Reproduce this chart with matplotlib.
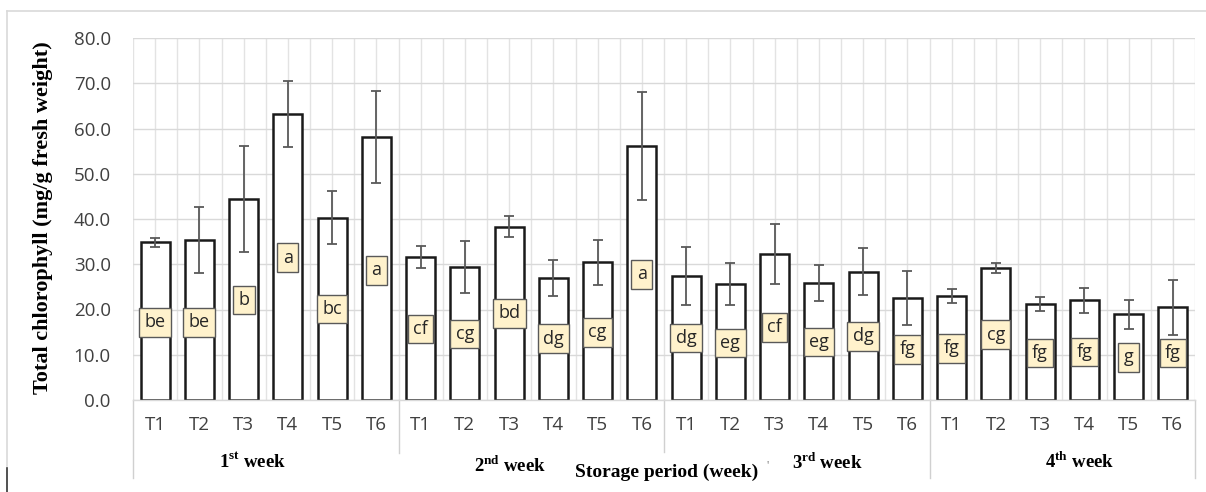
import numpy as np
import matplotlib
matplotlib.use("Agg")
import matplotlib.pyplot as plt
from matplotlib.lines import Line2D
import matplotlib.transforms as mtransforms

plt.rcParams['mathtext.fontset'] = 'custom'
plt.rcParams['mathtext.rm'] = 'Liberation Serif:bold'
plt.rcParams['mathtext.bf'] = 'Liberation Serif:bold'

# treatment means and standard deviations, per storage week
treatments = ['T1', 'T2', 'T3', 'T4', 'T5', 'T6']
weeks = [r'1$^{\mathrm{st}}$ week', r'2$^{\mathrm{nd}}$ week',
         r'3$^{\mathrm{rd}}$ week', r'4$^{\mathrm{th}}$ week']

means = [34.9, 35.3, 44.4, 63.2, 40.3, 58.1,
         31.6, 29.4, 38.3, 26.9, 30.4, 56.1,
         27.4, 25.6, 32.3, 25.9, 28.3, 22.5,
         23.0, 29.1, 21.2, 22.0, 18.9, 20.5]
sds = [1.0, 7.3, 11.8, 7.3, 5.9, 10.2,
       2.4, 5.7, 2.3, 4.0, 5.0, 12.0,
       6.4, 4.6, 6.6, 4.0, 5.2, 5.9,
       1.6, 1.1, 1.6, 2.8, 3.3, 6.1]
letters = ['be', 'be', 'b', 'a', 'bc', 'a',
           'cf', 'cg', 'bd', 'dg', 'cg', 'a',
           'dg', 'eg', 'cf', 'eg', 'dg', 'fg',
           'fg', 'cg', 'fg', 'fg', 'g', 'fg']
# height at which each letter tag sits
letter_y = [17.2, 17.2, 22.1, 31.4, 20.1, 28.7,
            15.7, 14.6, 19.2, 13.5, 15.0, 27.8,
            13.7, 12.6, 16.1, 12.8, 14.1, 11.2,
            11.4, 14.4, 10.4, 10.6, 9.4, 10.4]

W, H = 1206, 492
fig = plt.figure(figsize=(W / 100, H / 100), dpi=100)
ax = fig.add_axes([133 / W, 1 - 400 / H, (1195 - 133) / W, 362 / H])

x = np.arange(len(means))
ax.bar(x, means, width=0.66, color='white', edgecolor='#1a1a1a',
       linewidth=1.8, zorder=2)
ax.errorbar(x, means, yerr=sds, fmt='none', ecolor='#595959',
            elinewidth=1.3, capsize=3.5, capthick=1.3, zorder=3)

for xi, lab, ly in zip(x, letters, letter_y):
    ax.text(xi, ly, lab, ha='center', va='center', fontsize=13,
            family='Open Sans', color='#262626', zorder=4,
            bbox=dict(boxstyle='square,pad=0.3', fc='#fff2cc',
                      ec='#595959', lw=1))

ax.set_xlim(-0.5, 23.5)
ax.set_ylim(0, 80)
ax.set_yticks(np.arange(0, 81, 10))
ax.set_yticklabels([f'{v:.1f}' for v in np.arange(0, 81, 10)],
                   family='Open Sans', fontsize=13.5, color='#404040')
ax.tick_params(axis='y', length=0, pad=16)
ax.set_xticks(np.arange(-0.5, 24, 0.5), minor=True)
ax.set_xticks([])
ax.tick_params(axis='x', which='both', length=0)
ax.yaxis.grid(True, color='#d9d9d9', lw=1, zorder=0)
ax.xaxis.grid(True, which='minor', color='#e3e3e3', lw=1, zorder=0)
ax.set_axisbelow(True)
for s in ['top', 'left', 'right']:
    ax.spines[s].set_visible(False)
ax.spines['bottom'].set_color('#d9d9d9')
ax.spines['bottom'].set_linewidth(1)

# category axis: treatment row, week row and separators
trans = mtransforms.blended_transform_factory(ax.transData, ax.transAxes)
ph = 362.0
for xi in x:
    ax.text(xi, -25 / ph, treatments[xi % 6], transform=trans, ha='center',
            va='center', family='Open Sans', fontsize=13.5, color='#404040')

week_x = [2.21, 8.03, 15.2, 20.9]
week_y = [-62, -66, -63, -62]
for wx, wy, wl in zip(week_x, week_y, weeks):
    ax.text(wx, wy / ph, wl, transform=trans, ha='center', va='center',
            family='Liberation Serif', weight='bold', fontsize=13.5)

sep_x = [-0.5, 5.5, 11.5, 17.5, 23.5]
sep_end = [-78, -53, -52, -78, -78]
for sx, se in zip(sep_x, sep_end):
    ax.add_line(Line2D([sx, sx], [0, se / ph], transform=trans,
                       color='#d0d0d0', lw=1, clip_on=False))

fig.text(667 / W, 1 - 472 / H, 'Storage period (week)', ha='center',
         va='center', family='Liberation Serif', weight='bold', fontsize=14)
fig.text(768 / W, 1 - 466 / H, "'", ha='center', va='center',
         family='Liberation Serif', fontsize=9, color='#808080')

fig.text(43 / W, 1 - 218 / H, 'Total chlorophyll (mg/g fresh weight)',
         rotation=90, ha='center', va='center', family='Liberation Serif',
         weight='bold', fontsize=16)

# outer frame
fig.add_artist(Line2D([7 / W, 1], [1 - 11 / H, 1 - 11 / H],
                      color='#d9d9d9', lw=1.2))
fig.add_artist(Line2D([7 / W, 7 / W], [1 - 11 / H, 1 - 466 / H],
                      color='#d9d9d9', lw=1.2))
fig.add_artist(Line2D([7 / W, 7 / W], [1 - 468 / H, 0],
                      color='#333333', lw=1.2))

fig.savefig('out.png', dpi=100)
